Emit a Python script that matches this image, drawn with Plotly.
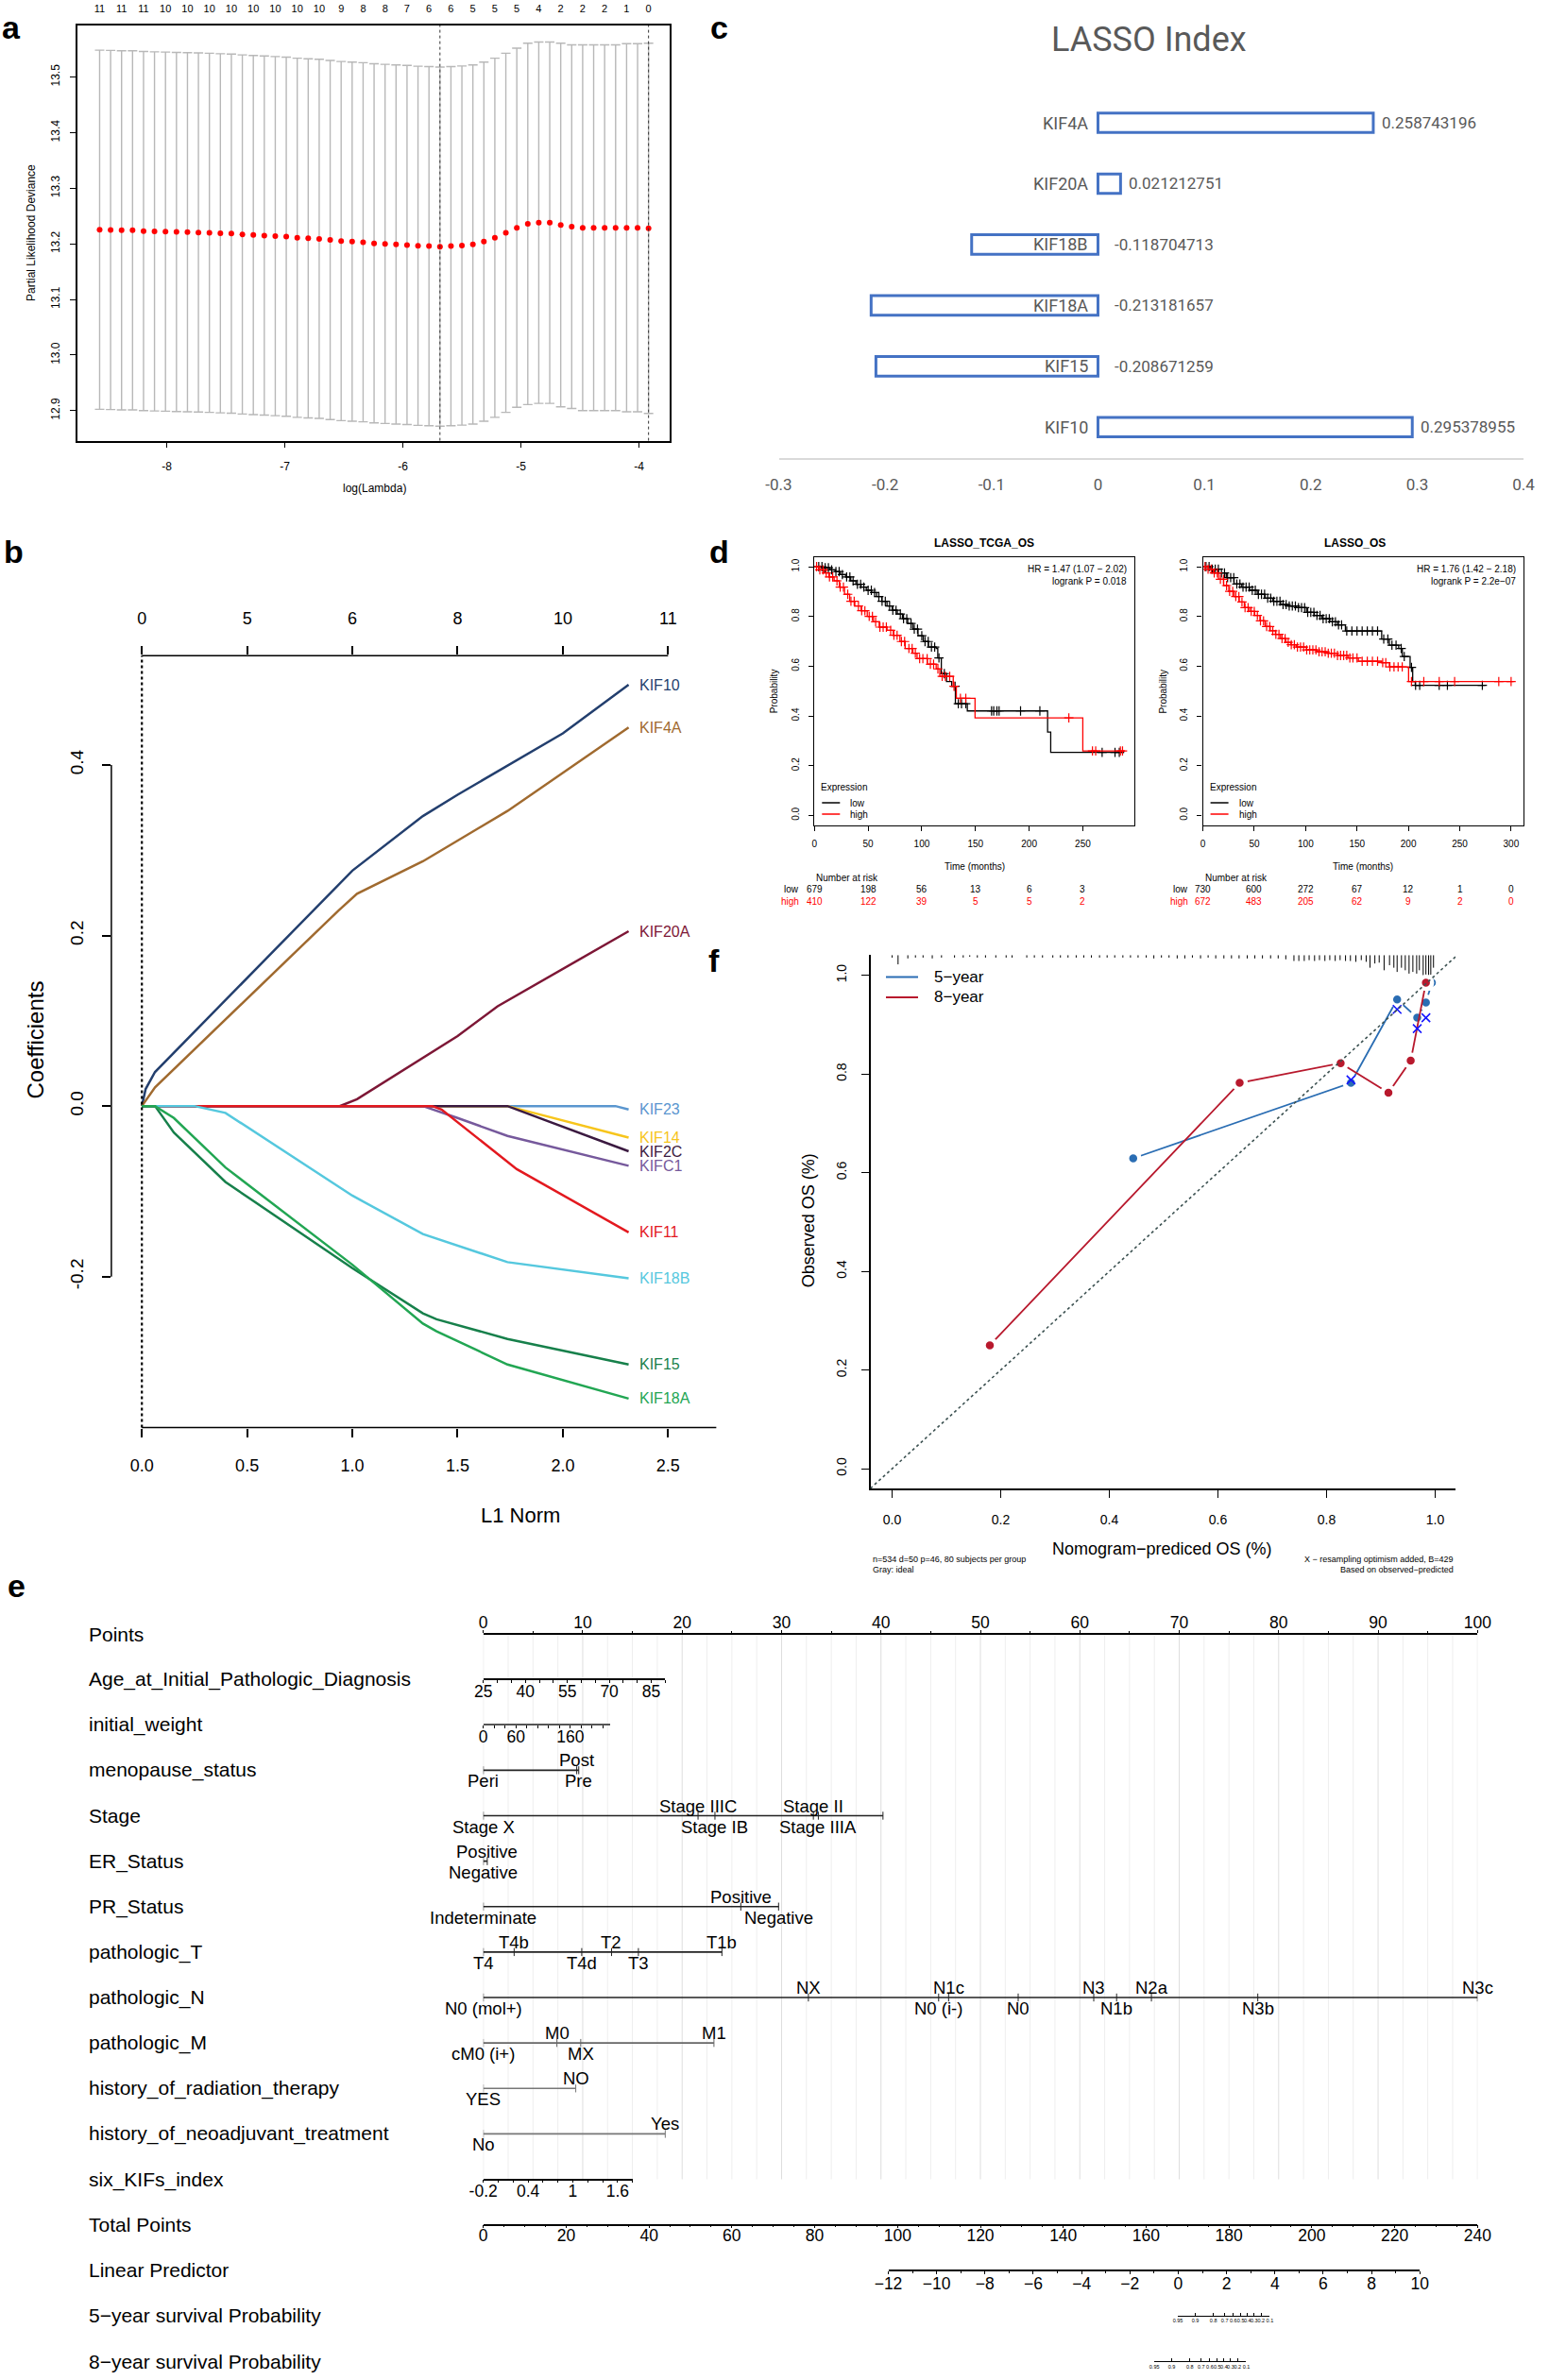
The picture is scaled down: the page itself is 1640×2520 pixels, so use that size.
import bisect
import plotly.graph_objects as go

W, H = 1640, 2520
FONT = "Liberation Sans, Arial, Helvetica, sans-serif"
CFONT = "Roboto, Liberation Sans, Arial, sans-serif"

# ============================ DATA ============================
# ---- panel a : cross-validation curve
a_loglam = [-8.569, -8.476, -8.383, -8.290, -8.197, -8.104, -8.011, -7.918, -7.825, -7.732,
            -7.639, -7.546, -7.453, -7.360, -7.267, -7.174, -7.081, -6.988, -6.895, -6.802,
            -6.709, -6.616, -6.523, -6.430, -6.337, -6.244, -6.151, -6.058, -5.965, -5.872,
            -5.779, -5.686, -5.593, -5.500, -5.407, -5.314, -5.221, -5.128, -5.035, -4.942,
            -4.849, -4.756, -4.663, -4.570, -4.477, -4.384, -4.291, -4.198, -4.105, -4.012,
            -3.919]
a_cvm = [13.2255, 13.2250, 13.2245, 13.2245, 13.2230, 13.2225, 13.2220, 13.2215, 13.2210, 13.2205,
         13.2200, 13.2190, 13.2185, 13.2170, 13.2160, 13.2150, 13.2140, 13.2130, 13.2110, 13.2100,
         13.2090, 13.2070, 13.2050, 13.2040, 13.2030, 13.2010, 13.2000, 13.1990, 13.1980, 13.1965,
         13.1960, 13.1950, 13.1960, 13.1970, 13.1990, 13.2040, 13.2110, 13.2200, 13.2290, 13.2360,
         13.2380, 13.2380, 13.2340, 13.2310, 13.2290, 13.2290, 13.2290, 13.2290, 13.2290, 13.2290,
         13.2280]
a_cvsd = [0.323, 0.323, 0.323, 0.323, 0.323, 0.323, 0.323, 0.323, 0.323, 0.323,
          0.323, 0.323, 0.323, 0.323, 0.323, 0.323, 0.323, 0.323, 0.323, 0.323,
          0.323, 0.323, 0.323, 0.323, 0.323, 0.323, 0.323, 0.323, 0.323, 0.323,
          0.323, 0.323, 0.323, 0.323, 0.323, 0.323, 0.323, 0.323, 0.323, 0.325,
          0.325, 0.325, 0.327, 0.327, 0.329, 0.329, 0.329, 0.329, 0.331, 0.331,
          0.333]
a_nzero = [11, 11, 11, 10, 10, 10, 10, 10, 10, 10, 10, 9, 8, 8, 7, 6, 6, 5, 5, 5, 4, 2, 2, 2, 1, 0]
a_min_idx = 31
a_1se_idx = 50
a_xticks = [-8, -7, -6, -5, -4]
a_xlabels = ["-8", "-7", "-6", "-5", "-4"]
a_yticks = [12.9, 13.0, 13.1, 13.2, 13.3, 13.4, 13.5]
a_ylabels = ["12.9", "13.0", "13.1", "13.2", "13.3", "13.4", "13.5"]

# ---- panel b : coefficient paths
b_KIF10_l1 = [0, 0.018, 0.0625, 1.0, 1.335, 1.5, 2.0, 2.3125]
b_KIF10_coef = [0, 0.020, 0.040, 0.276, 0.340, 0.365, 0.437, 0.494]
b_KIF4A_l1 = [0, 0.0625, 0.933, 1.022, 1.335, 1.737, 2.3125]
b_KIF4A_coef = [0, 0.022, 0.229, 0.249, 0.287, 0.346, 0.444]
b_KIF20A_l1 = [0, 0.94, 1.022, 1.5, 1.69, 2.3125]
b_KIF20A_coef = [0, 0, 0.008, 0.082, 0.117, 0.205]
b_KIF23_l1 = [0, 2.25, 2.3125]
b_KIF23_coef = [0, 0, -0.004]
b_KIF14_l1 = [0, 1.737, 2.3125]
b_KIF14_coef = [0, 0, -0.037]
b_KIF2C_l1 = [0, 1.737, 2.3125]
b_KIF2C_coef = [0, 0, -0.053]
b_KIFC1_l1 = [0, 1.335, 1.5, 1.737, 2.3125]
b_KIFC1_coef = [0, 0, -0.014, -0.035, -0.070]
b_KIF11_l1 = [0, 1.38, 1.424, 1.781, 2.3125]
b_KIF11_coef = [0, 0, -0.004, -0.074, -0.148]
b_KIF18B_l1 = [0, 0.25, 0.397, 1.0, 1.335, 1.737, 2.3125]
b_KIF18B_coef = [0, 0, -0.008, -0.105, -0.150, -0.183, -0.202]
b_KIF15_l1 = [0, 0.0625, 0.152, 0.397, 1.0, 1.335, 1.40, 1.737, 2.3125]
b_KIF15_coef = [0, 0, -0.031, -0.089, -0.190, -0.243, -0.250, -0.273, -0.303]
b_KIF18A_l1 = [0, 0.0625, 0.152, 0.397, 1.0, 1.335, 1.40, 1.737, 2.3125]
b_KIF18A_coef = [0, 0, -0.014, -0.072, -0.186, -0.255, -0.264, -0.303, -0.343]
b_genes = ["KIF10", "KIF4A", "KIF20A", "KIF23", "KIF14", "KIF2C", "KIFC1", "KIF11", "KIF18B", "KIF15", "KIF18A"]
b_colors = ["#233f6e", "#a06a2f", "#7d1736", "#5a96cf", "#f7c51c", "#3b1a40", "#76599c", "#e3191f", "#55c8de", "#17804b", "#22a653"]
b_l1_ticks = [0, 0.5, 1.0, 1.5, 2.0, 2.5]
b_l1_labels = ["0.0", "0.5", "1.0", "1.5", "2.0", "2.5"]
b_df_top = ["0", "5", "6", "8", "10", "11"]
b_coef_ticks = [-0.2, 0.0, 0.2, 0.4]
b_coef_labels = ["-0.2", "0.0", "0.2", "0.4"]

# ---- panel c : LASSO index
c_genes = ["KIF4A", "KIF20A", "KIF18B", "KIF18A", "KIF15", "KIF10"]
c_index = [0.258743196, 0.021212751, -0.118704713, -0.213181657, -0.208671259, 0.295378955]
c_ticks = [-0.3, -0.2, -0.1, 0, 0.1, 0.2, 0.3, 0.4]
c_labels = ["-0.3", "-0.2", "-0.1", "0", "0.1", "0.2", "0.3", "0.4"]

# ---- panel d : Kaplan-Meier
tcga_low_t = [0, 7.2, 14.5, 19.3, 24.1, 29.0, 33.8, 38.6, 43.4, 48.3, 53.1, 57.9, 62.7, 67.6, 72.4, 77.2,
              82.0, 86.9, 91.7, 96.5, 101.4, 106.2, 113.4, 114.9, 118.2, 123.0, 127.9, 131.3, 142.4,
              215.7, 217.2, 220.1, 288.6]
tcga_low_s = [1.0, 0.996, 0.987, 0.980, 0.968, 0.959, 0.943, 0.929, 0.918, 0.905, 0.896, 0.880, 0.861,
              0.842, 0.825, 0.810, 0.791, 0.772, 0.749, 0.722, 0.699, 0.677, 0.671, 0.633, 0.570, 0.538,
              0.519, 0.449, 0.420, 0.420, 0.335, 0.253, 0.253]
tcga_low_cens = [4, 7, 10, 13, 16, 20, 23, 26, 30, 33, 36, 40, 43, 46, 50, 53, 56, 60, 63, 66, 70, 73, 76,
                 80, 83, 86, 90, 93, 96, 100, 103, 106, 109, 112, 116, 121, 131, 134, 137, 141, 165, 167,
                 170, 172, 192, 210, 268, 280, 284]
tcga_high_t = [0, 3.9, 8.7, 13.5, 18.3, 23.2, 28.0, 32.8, 37.6, 43.4, 49.2, 55.0, 60.3, 67.6, 73.4, 79.6,
               84.5, 91.7, 95.6, 105.2, 113.4, 116.8, 129.3, 132.2, 149.6, 248.5, 250.0, 288.6]
tcga_high_s = [1.0, 0.987, 0.975, 0.959, 0.943, 0.918, 0.889, 0.861, 0.842, 0.823, 0.800, 0.778, 0.757,
               0.744, 0.724, 0.699, 0.671, 0.652, 0.630, 0.608, 0.589, 0.559, 0.519, 0.471, 0.392, 0.392,
               0.259, 0.259]
tcga_high_cens = [2, 5, 8, 11, 14, 17, 21, 24, 27, 31, 34, 37, 41, 44, 47, 51, 54, 57, 61, 64, 67, 71, 74,
                  77, 81, 84, 88, 91, 94, 98, 101, 105, 108, 111, 115, 119, 122, 126, 130, 136, 141, 237,
                  259, 262, 285, 287]
tcga_risk_t = [0, 50, 100, 150, 200, 250]
tcga_risk_low = [679, 198, 56, 13, 6, 3]
tcga_risk_high = [410, 122, 39, 5, 5, 2]

os_low_t = [0, 7.6, 15.1, 22.7, 30.3, 37.8, 45.4, 52.9, 60.5, 68.1, 75.6, 83.2, 90.8, 100.8, 108.4, 115.9,
            123.5, 131.0, 138.7, 174.0, 181.5, 190.6, 194.1, 201.7, 204.2, 206.7, 274.8]
os_low_s = [1.0, 0.990, 0.975, 0.956, 0.930, 0.918, 0.905, 0.889, 0.873, 0.861, 0.848, 0.842, 0.835,
            0.816, 0.804, 0.791, 0.778, 0.766, 0.741, 0.709, 0.684, 0.671, 0.639, 0.595, 0.538, 0.523, 0.523]
os_low_cens = [3, 6, 9, 12, 15, 18, 21, 24, 27, 30, 33, 36, 39, 42, 45, 48, 51, 54, 57, 60, 63, 66, 69,
               72, 75, 78, 81, 84, 87, 90, 93, 96, 99, 102, 105, 108, 111, 114, 117, 120, 123, 126, 129,
               132, 135, 140, 145, 150, 155, 160, 165, 170, 176, 180, 184, 188, 193, 196, 203, 207, 211,
               230, 238, 272]
os_high_t = [0, 5.0, 10.1, 15.1, 20.2, 25.2, 30.3, 35.3, 40.3, 45.4, 50.4, 55.5, 60.5, 65.5, 70.6, 75.6,
             80.7, 85.7, 90.8, 100.8, 110.9, 121.0, 131.0, 141.2, 151.3, 174.0, 181.5, 200.2, 302.5]
os_high_s = [1.0, 0.990, 0.975, 0.949, 0.924, 0.901, 0.880, 0.858, 0.835, 0.820, 0.804, 0.782, 0.759,
             0.742, 0.728, 0.711, 0.696, 0.686, 0.677, 0.665, 0.658, 0.652, 0.643, 0.633, 0.620, 0.614,
             0.597, 0.538, 0.538]
os_high_cens = [2, 5, 8, 11, 14, 17, 20, 23, 26, 29, 32, 35, 38, 41, 44, 47, 50, 53, 56, 59, 62, 65, 68,
                71, 74, 77, 80, 83, 86, 89, 92, 95, 98, 101, 104, 107, 110, 113, 116, 119, 122, 125, 128,
                131, 134, 137, 140, 143, 146, 150, 155, 160, 165, 170, 175, 178, 182, 186, 190, 194, 203,
                215, 230, 245, 288, 300]
os_risk_t = [0, 50, 100, 150, 200, 250, 300]
os_risk_low = [730, 600, 272, 67, 12, 1, 0]
os_risk_high = [672, 483, 205, 62, 9, 2, 0]
km_prob_ticks = [0.0, 0.2, 0.4, 0.6, 0.8, 1.0]
km_prob_labels = ["0.0", "0.2", "0.4", "0.6", "0.8", "1.0"]

# ---- panel f : calibration
f_pred5 = [0.444, 0.845, 0.930, 0.967, 0.983, 0.994]
f_obs5 = [0.629, 0.782, 0.951, 0.914, 0.945, 0.985]
f_pred8 = [0.180, 0.640, 0.826, 0.914, 0.955, 0.983]
f_obs8 = [0.250, 0.782, 0.822, 0.762, 0.827, 0.985]
f_corr_x = [0.845, 0.930, 0.967, 0.983]
f_corr_y = [0.788, 0.931, 0.892, 0.914]
f_rug_x = [0.000, 0.011, 0.029, 0.043, 0.057, 0.074, 0.091, 0.115, 0.131, 0.143, 0.157, 0.172, 0.191,
           0.210, 0.221, 0.248, 0.262, 0.277, 0.296, 0.310, 0.324, 0.339, 0.353, 0.367, 0.382, 0.396,
           0.410, 0.425, 0.439, 0.453, 0.468, 0.482, 0.496, 0.510, 0.525, 0.539, 0.553, 0.568, 0.582,
           0.596, 0.611, 0.625, 0.639, 0.654, 0.668, 0.682, 0.697, 0.711, 0.725, 0.740, 0.749, 0.759,
           0.768, 0.778, 0.787, 0.797, 0.806, 0.816, 0.825, 0.835, 0.844, 0.854, 0.864, 0.873, 0.880,
           0.889, 0.897, 0.906, 0.916, 0.924, 0.930, 0.938, 0.945, 0.952, 0.959, 0.966, 0.971, 0.978,
           0.983, 0.988, 0.992, 0.997]
f_rug_n = [3, 11, 4, 3, 3, 4, 3, 3, 3, 2, 3, 3, 3,
           3, 3, 3, 3, 3, 3, 3, 3, 3, 3, 3, 3, 3,
           3, 3, 3, 3, 3, 4, 3, 3, 4, 4, 3, 4, 3,
           4, 4, 4, 4, 4, 4, 4, 4, 4, 5, 7, 7, 7,
           6, 7, 6, 7, 6, 7, 6, 7, 7, 8, 6, 8, 15,
           10, 9, 18, 12, 15, 20, 15, 18, 22, 20, 22, 18, 27,
           25, 27, 25, 15]
f_ticks = [0.0, 0.2, 0.4, 0.6, 0.8, 1.0]
f_labels = ["0.0", "0.2", "0.4", "0.6", "0.8", "1.0"]

# ---- panel e : nomogram
e_row_names = ["Points", "Age_at_Initial_Pathologic_Diagnosis", "initial_weight", "menopause_status",
               "Stage", "ER_Status", "PR_Status", "pathologic_T", "pathologic_N", "pathologic_M",
               "history_of_radiation_therapy", "history_of_neoadjuvant_treatment", "six_KIFs_index",
               "Total Points", "Linear Predictor", "5\u2212year survival Probability",
               "8\u2212year survival Probability"]
e_points_ticks = [0, 10, 20, 30, 40, 50, 60, 70, 80, 90, 100]
e_age_ticks = [25, 30, 35, 40, 45, 50, 55, 60, 65, 70, 75, 80, 85, 90]
e_age_labels = ["25", "", "", "40", "", "", "55", "", "", "70", "", "", "85", ""]
e_weight_ticks = [0, 20, 40, 60, 80, 100, 120, 140, 160, 180, 200, 220]
e_weight_labels = ["0", "", "", "60", "", "", "", "", "160", "", "", ""]
e_kif_ticks = [-0.2, 0.0, 0.2, 0.4, 0.6, 0.8, 1.0, 1.2, 1.4, 1.6, 1.8]
e_kif_labels = ["-0.2", "", "", "0.4", "", "", "1", "", "", "1.6", ""]
e_total_ticks = [0, 20, 40, 60, 80, 100, 120, 140, 160, 180, 200, 220, 240]
e_lp_ticks = [-12, -10, -8, -6, -4, -2, 0, 2, 4, 6, 8, 10]
e_s_probs = ["0.95", "0.9", "0.8", "0.7", "0.6", "0.5", "0.4", "0.3", "0.2", "0.1"]
e_s5_lp = [-0.016, 0.704, 1.454, 1.923, 2.282, 2.588, 2.867, 3.140, 3.430, 3.788]
e_s8_lp = [-0.990, -0.270, 0.480, 0.949, 1.308, 1.614, 1.893, 2.166, 2.456, 2.814]

e_meno_lvls = ["Peri", "Post", "Pre"]
e_meno_pts = [0, 9.4, 9.6]
e_meno_up = [False, True, False]
e_stage_lvls = ["Stage X", "Stage IIIC", "Stage IB", "Stage II", "Stage IIIA"]
e_stage_pts = [0, 21.6, 23.3, 33.2, 33.7]
e_stage_up = [False, True, False, True, False]
e_stage_max = 40.2
e_er_lvls = ["Positive", "Negative"]
e_er_pts = [0.4, 0]
e_er_up = [True, False]
e_pr_lvls = ["Positive", "Indeterminate", "Negative"]
e_pr_pts = [25.9, 0, 29.7]
e_pr_up = [True, False, False]
e_t_lvls = ["T4b", "T2", "T1b", "T4", "T4d", "T3"]
e_t_pts = [3.1, 12.9, 24.0, 0, 9.9, 15.6]
e_t_up = [True, True, True, False, False, False]
e_n_lvls = ["NX", "N1c", "N3", "N2a", "N3c", "N0 (mol+)", "N0 (i-)", "N0", "N1b", "N3b"]
e_n_pts = [32.7, 46.8, 61.4, 67.2, 100, 0, 45.8, 53.8, 63.7, 77.9]
e_n_up = [True, True, True, True, True, False, False, False, False, False]
e_m_lvls = ["M0", "M1", "cM0 (i+)", "MX"]
e_m_pts = [7.4, 23.2, 0, 9.8]
e_m_up = [True, True, False, False]
e_rad_lvls = ["NO", "YES"]
e_rad_pts = [9.3, 0]
e_rad_up = [True, False]
e_neo_lvls = ["Yes", "No"]
e_neo_pts = [18.3, 0]
e_neo_up = [True, False]

# ============================ HELPERS ============================
def fx(p):
    return p / W


def fy(p):
    return 1 - p / H


fig = go.Figure()
ann, shp, L = [], [], {}


def add_text(x, y, s, size, xref="paper", yref="paper", xanchor="center", yanchor="middle",
             color="black", angle=0, family=FONT, xshift=0, yshift=0):
    ann.append(dict(x=fx(x) if xref == "paper" else x, y=fy(y) if yref == "paper" else y,
                    xref=xref, yref=yref, text=s, showarrow=False, xanchor=xanchor, yanchor=yanchor,
                    font=dict(size=size, color=color, family=family), textangle=angle,
                    xshift=xshift, yshift=yshift))


def tf(size, color="black", family=FONT):
    return dict(size=size, color=color, family=family)


def axis(**kw):
    d = dict(showgrid=False, zeroline=False, linecolor="black", tickcolor="black",
             ticks="outside", tickmode="array", automargin=False)
    d.update(kw)
    return d


def hline_paper(x0, x1, y, color, width, dash="solid"):
    shp.append(dict(type="line", xref="paper", yref="paper", x0=fx(x0), x1=fx(x1), y0=fy(y), y1=fy(y),
                    line=dict(color=color, width=width, dash=dash)))


# ============================ PANEL a ============================
a_xrange = [-8.756, -3.741]
fig.add_trace(go.Scatter(x=a_loglam, y=a_cvm, mode="markers", marker=dict(color="#ff0000", size=6),
                         error_y=dict(type="data", array=a_cvsd, visible=True, color="#b8b8b8",
                                      thickness=1.4, width=5),
                         xaxis="x", yaxis="y", hoverinfo="skip"))
fig.add_trace(go.Scatter(x=a_loglam[::2], y=a_cvm[::2], mode="markers", marker=dict(opacity=0),
                         xaxis="x2", yaxis="y", hoverinfo="skip"))
L["xaxis"] = axis(domain=[fx(82.1), fx(708.9)], range=a_xrange, anchor="y", tickvals=a_xticks,
                  ticktext=a_xlabels, ticklen=6, showline=True, mirror=True, linewidth=1.5,
                  tickfont=tf(12), ticklabelstandoff=9)
L["xaxis2"] = axis(overlaying="x", side="top", anchor="y", range=a_xrange, tickvals=a_loglam[::2],
                   ticktext=[str(n) for n in a_nzero], ticks="", showline=False, tickfont=tf(11),
                   ticklabelstandoff=11)
L["yaxis"] = axis(domain=[fy(466.6), fy(26.9)], range=[12.846, 13.593], anchor="x", tickvals=a_yticks,
                  ticktext=a_ylabels, tickangle=-90, ticklen=6, showline=True, mirror=True, linewidth=1.5,
                  tickfont=tf(12), ticklabelstandoff=7)
for idx in (a_min_idx, a_1se_idx):
    shp.append(dict(type="line", xref="x", yref="y domain", x0=a_loglam[idx], x1=a_loglam[idx], y0=0, y1=1,
                    line=dict(color="#333333", width=1, dash="dot")))
add_text(396, 516.6, "log(Lambda)", 12)
add_text(32.3, 246.7, "Partial Likelihood Deviance", 12, angle=-90)

# ============================ PANEL b ============================
b_l1_all = [b_KIF10_l1, b_KIF4A_l1, b_KIF20A_l1, b_KIF23_l1, b_KIF14_l1, b_KIF2C_l1, b_KIFC1_l1,
            b_KIF11_l1, b_KIF18B_l1, b_KIF15_l1, b_KIF18A_l1]
b_coef_all = [b_KIF10_coef, b_KIF4A_coef, b_KIF20A_coef, b_KIF23_coef, b_KIF14_coef, b_KIF2C_coef,
              b_KIFC1_coef, b_KIF11_coef, b_KIF18B_coef, b_KIF15_coef, b_KIF18A_coef]
for g, col, xs, ys in zip(b_genes, b_colors, b_l1_all, b_coef_all):
    fig.add_trace(go.Scatter(x=xs, y=ys, mode="lines", line=dict(color=col, width=2.5),
                             xaxis="x3", yaxis="y3", hoverinfo="skip"))
    add_text(xs[-1], ys[-1], g, 16, xref="x3", yref="y3", xanchor="left", color=col, xshift=9)
fig.add_trace(go.Scatter(x=b_l1_ticks, y=[0] * len(b_l1_ticks), mode="markers", marker=dict(opacity=0),
                         xaxis="x4", yaxis="y3", hoverinfo="skip"))
b_xrange = [-0.145, 2.73]
L["xaxis3"] = axis(domain=[fx(117.9), fx(758.6)], range=b_xrange, anchor="y3", tickvals=b_l1_ticks,
                   ticktext=b_l1_labels, ticklen=9, tickwidth=1.5, showline=False, tickfont=tf(18),
                   ticklabelstandoff=15)
L["xaxis4"] = axis(overlaying="x3", side="top", anchor="y3", range=b_xrange, tickvals=b_l1_ticks,
                   ticktext=b_df_top, ticklen=9, tickwidth=1.5, showline=False, tickfont=tf(18),
                   ticklabelstandoff=16)
L["yaxis3"] = axis(domain=[fy(1511.6), fy(694.3)], range=[-0.377, 0.528], anchor="x3", tickvals=b_coef_ticks,
                   ticktext=b_coef_labels, tickangle=-90, ticklen=9, tickwidth=1.5, showline=False,
                   tickfont=tf(19), ticklabelstandoff=12)
shp.append(dict(type="line", xref="x3", yref="y3 domain", x0=b_l1_ticks[0], x1=b_xrange[1], y0=0, y1=0,
                line=dict(color="black", width=1.5)))
shp.append(dict(type="line", xref="x3", yref="y3 domain", x0=b_l1_ticks[0], x1=b_l1_ticks[-1], y0=1, y1=1,
                line=dict(color="black", width=1.5)))
shp.append(dict(type="line", xref="x3 domain", yref="y3", x0=0, x1=0, y0=b_coef_ticks[0],
                y1=b_coef_ticks[-1], line=dict(color="black", width=1.5)))
shp.append(dict(type="line", xref="x3", yref="y3 domain", x0=0, x1=0, y0=0, y1=1,
                line=dict(color="black", width=2.2, dash="dot")))
add_text(551.2, 1604.9, "L1 Norm", 22)
add_text(37.3, 1101.2, "Coefficients", 24, angle=-90)

# ============================ PANEL c ============================
fig.add_trace(go.Bar(y=c_genes, x=c_index, orientation="h", width=0.32,
                     marker=dict(color="white", line=dict(color="#4472C4", width=3)),
                     xaxis="x5", yaxis="y5", hoverinfo="skip"))
L["xaxis5"] = axis(domain=[fx(824.5), fx(1613.1)], range=[-0.3, 0.4], anchor="y5", tickvals=c_ticks,
                   ticktext=c_labels, ticks="", showline=True, linecolor="#d9d9d9", linewidth=2,
                   tickfont=tf(17, "#595959", CFONT), ticklabelstandoff=12)
L["yaxis5"] = dict(domain=[fy(484.5), fy(97.8)], type="category", categoryorder="array",
                   categoryarray=c_genes, range=[5.5, -0.5], visible=False, anchor="x5", automargin=False)
for g, v in zip(c_genes, c_index):
    add_text(0, g, g, 18, xref="x5", yref="y5", xanchor="right", color="#595959", family=CFONT, xshift=-8)
    add_text(max(v, 0), g, "%.9f" % v, 17, xref="x5", yref="y5", xanchor="left", color="#595959",
             family=CFONT, xshift=7 if v > 0 else 16)
add_text(1216.6, 42, "LASSO Index", 36, color="#595959", family=CFONT)


# ============================ PANEL d ============================
def step_at(times, surv, t):
    i = bisect.bisect_right(times, t) - 1
    return surv[max(i, 0)]


def km(times, surv, cens, color, xa, ya):
    fig.add_trace(go.Scatter(x=times, y=surv, mode="lines", line=dict(color=color, width=1.3, shape="hv"),
                             xaxis=xa, yaxis=ya, hoverinfo="skip"))
    fig.add_trace(go.Scatter(x=cens, y=[step_at(times, surv, c) for c in cens], mode="markers",
                             marker=dict(symbol="cross-thin", size=7, color=color,
                                         line=dict(color=color, width=1.2)),
                             xaxis=xa, yaxis=ya, hoverinfo="skip"))


km(tcga_low_t, tcga_low_s, tcga_low_cens, "black", "x6", "y6")
km(tcga_high_t, tcga_high_s, tcga_high_cens, "#ff0000", "x6", "y6")
km(os_low_t, os_low_s, os_low_cens, "black", "x7", "y7")
km(os_high_t, os_high_s, os_high_cens, "#ff0000", "x7", "y7")

d_panels = [
    dict(xa="x6", ya="y6", left=862.3, right=1201.2, xmax=298.2, ticks=tcga_risk_t, title="LASSO_TCGA_OS",
         title_x=1042.2, hr_x=1195.2, lowlab=848.0,
         hr="HR = 1.47 (1.07 \u2212 2.02)", p="logrank P = 0.018", low=tcga_risk_low, high=tcga_risk_high),
    dict(xa="x7", ya="y7", left=1273.6, right=1612.5, xmax=311.6, ticks=os_risk_t, title="LASSO_OS",
         title_x=1434.3, hr_x=1606.5, lowlab=1260.4,
         hr="HR = 1.76 (1.42 \u2212 2.18)", p="logrank P = 2.2e\u221207", low=os_risk_low, high=os_risk_high),
]
for P in d_panels:
    n = P["xa"][1:]
    L["xaxis" + n] = axis(domain=[fx(P["left"]), fx(P["right"])], range=[0, P["xmax"]], anchor=P["ya"],
                          tickvals=P["ticks"], ticktext=[str(t) for t in P["ticks"]], ticklen=5,
                          showline=True, mirror=True, linewidth=1.3, tickfont=tf(10), ticklabelstandoff=5)
    L["yaxis" + n] = axis(domain=[fy(874), fy(590)], range=[-0.0405, 1.038], anchor=P["xa"],
                          tickvals=km_prob_ticks, ticktext=km_prob_labels, tickangle=-90, ticklen=5,
                          showline=True, mirror=True, linewidth=1.3, tickfont=tf(10), ticklabelstandoff=6)
    cx = (P["left"] + P["right"]) / 2
    add_text(P["title_x"], 575, "<b>%s</b>" % P["title"], 12)
    add_text(P["hr_x"], 602.7, P["hr"], 10, xanchor="right")
    add_text(P["hr_x"], 615.3, P["p"], 10, xanchor="right")
    add_text(cx, 917, "Time (months)", 10)
    add_text(P["left"] - 43, 732, "Probability", 10, angle=-90)
    add_text(P["left"] + 5, 834, "Expression", 10, xanchor="left")
    hline_paper(P["left"] + 8, P["left"] + 27, 850, "black", 1.5)
    hline_paper(P["left"] + 8, P["left"] + 27, 862, "#ff0000", 1.5)
    add_text(P["left"] + 36, 850, "low", 10, xanchor="left")
    add_text(P["left"] + 36, 862, "high", 10, xanchor="left")
    add_text(P["left"], 929, "Number at risk", 10, xanchor="left")
    add_text(P["lowlab"], 941.7, "low", 10, xanchor="right")
    add_text(P["lowlab"], 954, "high", 10, xanchor="right", color="#ff0000")
    for t, lo, hi in zip(P["ticks"], P["low"], P["high"]):
        ann.append(dict(x=t, y=fy(941.7), xref=P["xa"], yref="paper", text=str(lo), showarrow=False,
                        font=tf(10)))
        ann.append(dict(x=t, y=fy(954), xref=P["xa"], yref="paper", text=str(hi), showarrow=False,
                        font=tf(10, "#ff0000")))

# ============================ PANEL f ============================
f_xrange = [-0.04, 1.038]
f_yrange = [-0.04, 1.041]
F_BLUE = "#2a6db3"
F_RED = "#b8192d"
rx, ry = [], []
for xv, nv in zip(f_rug_x, f_rug_n):
    rx += [xv, xv, None]
    ry += [f_yrange[1], f_yrange[1] - nv * 0.00171, None]
fig.add_trace(go.Scatter(x=rx, y=ry, mode="lines", line=dict(color="black", width=1),
                         xaxis="x8", yaxis="y8", hoverinfo="skip"))
shp.append(dict(type="line", xref="x8", yref="y8", x0=f_xrange[0], y0=f_xrange[0], x1=f_xrange[1],
                y1=f_xrange[1], line=dict(color="#3d5252", width=1.6, dash="dot")))
for xs, ys, col in ((f_pred5, f_obs5, F_BLUE), (f_pred8, f_obs8, F_RED)):
    fig.add_trace(go.Scatter(x=xs, y=ys, mode="lines+markers", line=dict(color=col, width=1.8),
                             marker=dict(size=13, color=col, line=dict(color="white", width=4.5)),
                             xaxis="x8", yaxis="y8", hoverinfo="skip"))
fig.add_trace(go.Scatter(x=f_corr_x, y=f_corr_y, mode="markers",
                         marker=dict(symbol="x-thin", size=9, color="#1515ff", line=dict(color="#1515ff", width=1.6)),
                         xaxis="x8", yaxis="y8", hoverinfo="skip"))
L["xaxis8"] = axis(domain=[fx(921.5), fx(1541.3)], range=f_xrange, anchor="y8", tickvals=f_ticks,
                   ticktext=f_labels, ticklen=8, tickwidth=1.3, showline=True, linewidth=1.5,
                   tickfont=tf(14), ticklabelstandoff=11)
L["yaxis8"] = axis(domain=[fy(1576), fy(1011.25)], range=f_yrange, anchor="x8", tickvals=f_ticks,
                   ticktext=f_labels, tickangle=-90, ticklen=8, tickwidth=1.3, showline=True, linewidth=1.5,
                   tickfont=tf(14), ticklabelstandoff=10)
hline_paper(938, 972, 1034.5, F_BLUE, 2)
hline_paper(938, 972, 1055.9, F_RED, 2)
add_text(987.3, 1034.5, "5\u2212year", 17, xanchor="left")
add_text(987.3, 1055.9, "8\u2212year", 17, xanchor="left")
add_text(1230.8, 1639.8, "Nomogram\u2212prediced OS (%)", 18)
add_text(856.8, 1292.5, "Observed OS (%)", 18, angle=-90)
add_text(921.5, 1651, "n=534 d=50 p=46, 80 subjects per group", 9, xanchor="left")
add_text(921.5, 1661.7, "Gray: ideal", 9, xanchor="left")
add_text(1541.3, 1651, "X \u2212 resampling optimism added, B=429", 9, xanchor="right")
add_text(1541.3, 1661.7, "Based on observed\u2212predicted", 9, xanchor="right")

# ============================ PANEL e ============================
E_ROW0 = 1730.0
E_STEP = 48.125
PTS_L, PTS_R = 511.7, 1564.3
LP_L, LP_R = 940.5, 1503.3


def e_row_px(i):
    return E_ROW0 + E_STEP * i


def lp_px(v):
    return LP_L + (v - e_lp_ticks[0]) * (LP_R - LP_L) / (e_lp_ticks[-1] - e_lp_ticks[0])


L["yaxis9"] = dict(domain=[0, fy(1700)], range=[(H - E_ROW0) / E_STEP, (1700 - E_ROW0) / E_STEP],
                   visible=False, anchor="x9", automargin=False)

for k in range(0, 41):
    gx = k * 2.5
    shp.append(dict(type="line", xref="x9", yref="y9", x0=gx, x1=gx, y0=0, y1=12, layer="below",
                    line=dict(color="#dedede" if k % 4 == 0 else "#eeeeee", width=1)))


def e_axis(n, row, px0, px1, vrange, tickvals, ticktext, side="bottom", size=17.5, ticks="outside",
           ticklen=3, standoff=-6, lw=1.5, color="black", minor=None):
    d = axis(domain=[fx(px0), fx(px1)], range=vrange, anchor="free", position=fy(e_row_px(row)), side=side,
             tickvals=tickvals, ticktext=ticktext, ticks=ticks, ticklen=ticklen, tickwidth=1,
             showline=True, linecolor=color, linewidth=lw, tickfont=tf(size), tickangle=0,
             ticklabelstandoff=standoff)
    if minor is not None:
        d["minor"] = dict(dtick=minor, ticks=ticks, ticklen=2, tickcolor="black")
    L["xaxis%d" % n] = d
    fig.add_trace(go.Scatter(x=tickvals, y=[row] * len(tickvals), mode="markers", marker=dict(opacity=0),
                             xaxis="x%d" % n, yaxis="y9", hoverinfo="skip"))


PPX = (PTS_R - PTS_L) / 100.0
e_axis(9, 0, PTS_L, PTS_R, [0, 100], e_points_ticks, [str(v) for v in e_points_ticks], side="top",
       standoff=-5, minor=5)
age_ppu = 16.9 * PPX / (85 - 25)
e_axis(10, 1, PTS_L, PTS_L + (e_age_ticks[-1] - e_age_ticks[0]) * age_ppu,
       [e_age_ticks[0], e_age_ticks[-1]], e_age_ticks, e_age_labels)
w_ppu = 8.75 * PPX / 160
e_axis(11, 2, PTS_L, PTS_L + 234 * w_ppu, [0, 234], e_weight_ticks, e_weight_labels, color="#555555")
k_ppu = 13.5 * PPX / 1.8
e_axis(12, 12, PTS_L, PTS_L + (e_kif_ticks[-1] - e_kif_ticks[0]) * k_ppu,
       [e_kif_ticks[0], e_kif_ticks[-1]], e_kif_ticks, e_kif_labels)
e_axis(13, 13, PTS_L, PTS_R, [e_total_ticks[0], e_total_ticks[-1]], e_total_ticks,
       [str(v) for v in e_total_ticks], minor=5, standoff=-7)
e_axis(14, 14, LP_L, LP_R, [e_lp_ticks[0], e_lp_ticks[-1]], e_lp_ticks,
       [str(v).replace("-", "\u2212") for v in e_lp_ticks], minor=1, standoff=-5)
e_axis(15, 15, lp_px(e_s5_lp[0]), lp_px(e_s5_lp[-1]), [e_s5_lp[0], e_s5_lp[-1]], e_s5_lp, e_s_probs,
       size=5.5, ticks="inside", ticklen=3, standoff=0, lw=1)
e_axis(16, 16, lp_px(e_s8_lp[0]), lp_px(e_s8_lp[-1]), [e_s8_lp[0], e_s8_lp[-1]], e_s8_lp, e_s_probs,
       size=5.5, ticks="inside", ticklen=3, standoff=0, lw=1)

e_cat_rows = [
    (3, e_meno_lvls, e_meno_pts, e_meno_up, None, "#222222"),
    (4, e_stage_lvls, e_stage_pts, e_stage_up, e_stage_max, "#222222"),
    (5, e_er_lvls, e_er_pts, e_er_up, None, "#222222"),
    (6, e_pr_lvls, e_pr_pts, e_pr_up, None, "#222222"),
    (7, e_t_lvls, e_t_pts, e_t_up, None, "#222222"),
    (8, e_n_lvls, e_n_pts, e_n_up, None, "#222222"),
    (9, e_m_lvls, e_m_pts, e_m_up, None, "#666666"),
    (10, e_rad_lvls, e_rad_pts, e_rad_up, None, "#777777"),
    (11, e_neo_lvls, e_neo_pts, e_neo_up, None, "#777777"),
]
for row, lvls, pts, ups, extra, col in e_cat_rows:
    allp = list(pts) + ([extra] if extra is not None else [])
    fig.add_trace(go.Scatter(x=[min(allp), max(allp)], y=[row, row], mode="lines",
                             line=dict(color=col, width=1.6), xaxis="x9", yaxis="y9", hoverinfo="skip"))
    fig.add_trace(go.Scatter(x=allp, y=[row] * len(allp), mode="markers",
                             marker=dict(symbol="line-ns", size=6, line=dict(color=col, width=1)),
                             xaxis="x9", yaxis="y9", hoverinfo="skip"))
    for lv, p, up in zip(lvls, pts, ups):
        add_text(p, row, lv, 18.5, xref="x9", yref="y9", yshift=10.5 if up else -11.5)

for i, name in enumerate(e_row_names):
    add_text(91.7, i, name, 21, xref="paper", yref="y9", xanchor="left")

# ============================ PANEL LETTERS ============================
for ch, x, y in (("a", 12.4, 29.4), ("c", 761, 29.4), ("b", 14.2, 584), ("d", 761, 584),
                 ("f", 756, 1017), ("e", 17, 1679)):
    add_text(x, y, "<b>%s</b>" % ch, 34)

fig.update_layout(width=W, height=H, margin=dict(l=0, r=0, t=0, b=0, pad=0, autoexpand=False),
                  autosize=False, paper_bgcolor="white", plot_bgcolor="rgba(0,0,0,0)",
                  font=dict(family=FONT, color="black", size=12), showlegend=False,
                  annotations=ann, shapes=shp, **L)
fig.write_html("out.html", config={"responsive": False, "displayModeBar": False},
               post_script="document.body.style.margin='0px';document.body.style.padding='0px';")
